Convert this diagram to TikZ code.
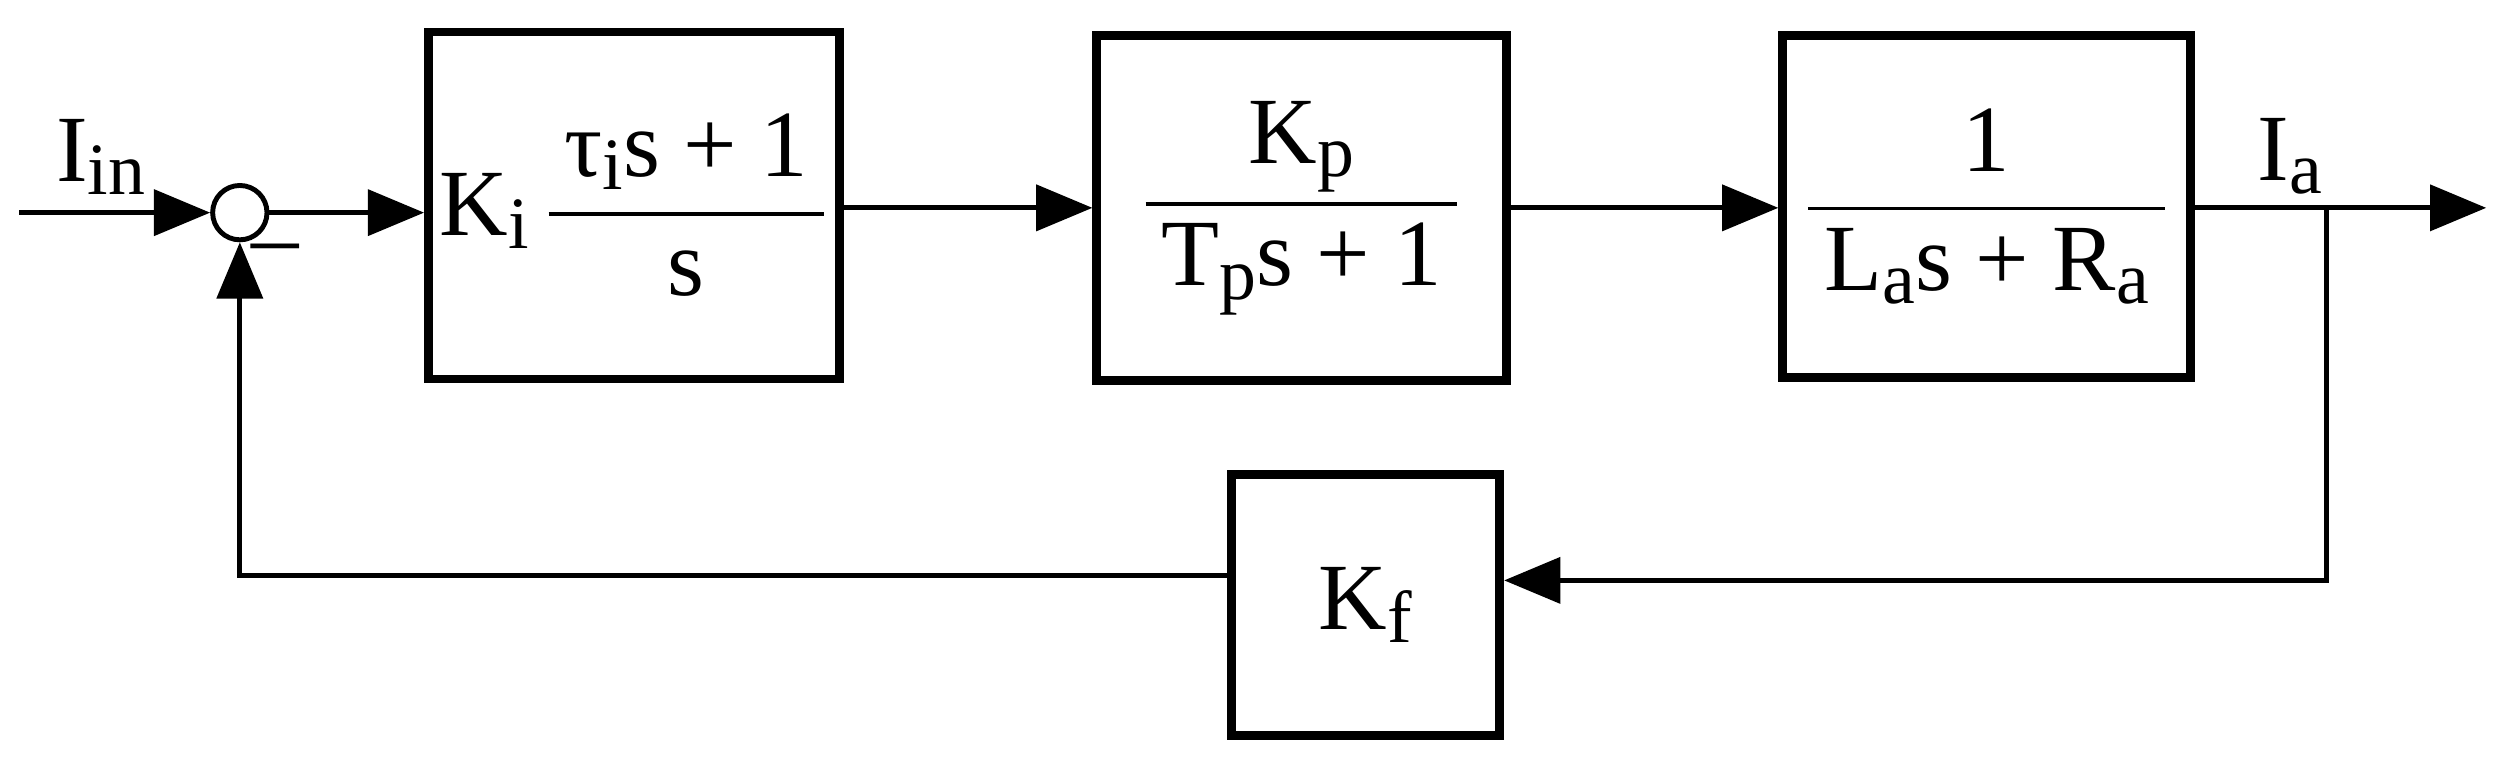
\documentclass[tikz,border=0pt]{standalone}
\usepackage{fontspec}
\setmainfont{Liberation Serif}
\usepackage{amsmath}
\usetikzlibrary{arrows.meta}
\newcommand{\sbx}[1]{\raisebox{-0.3ex}{\fontsize{21}{22}\selectfont #1}}
\begin{document}
\begin{tikzpicture}[x=0.01599cm,y=-0.01599cm,
  blk/.style={draw,line width=2.5pt,inner sep=0},
  ln/.style={line width=1.4pt},
  arr/.style={ln,-{Triangle[length=16pt,width=13pt]}},
  every node/.style={font=\fontsize{27}{32}\selectfont}]
\useasboundingbox (0,0) rectangle (1568,478);
\node[draw,ln,circle,minimum size=34*0.455pt,inner sep=0] (sum) at (150,133) {};
\node[blk,minimum width=257*0.455pt,minimum height=217*0.455pt] (b1) at (396.5,128.5) {};
\node at (b1) {K\sbx{i}\,$\dfrac{\text{\,τ\sbx{i}s + 1\,}}{\text{s}}$};
\node[blk,minimum width=256*0.455pt,minimum height=216*0.455pt] (b2) at (814,130) {};
\node at (b2) {$\dfrac{\text{K\sbx{p}}}{\text{\,T\sbx{p}s + 1\,}}$};
\node[blk,minimum width=255*0.455pt,minimum height=214*0.455pt] (b3) at (1242.5,129) {};
\node at (b3) {$\dfrac{\text{1}}{\text{\,L\sbx{a}s + R\sbx{a}\,}}$};
\node[blk,minimum width=168*0.455pt,minimum height=163*0.455pt] (bf) at (854,378.5) {K\sbx{f}};
\coordinate (in) at (12,133);
\coordinate (out) at (1555,130);
\coordinate (br) at (1455,130);
\coordinate (brd) at (1455,363);
\coordinate (fbl) at (150,360);
\draw[arr] (in) -- (sum);
\draw[arr] (sum) -- (sum -| b1.west);
\draw[arr] (b1.east |- 0,130) -- (b2.west |- 0,130);
\draw[arr] (b2.east |- 0,130) -- (b3.west |- 0,130);
\draw[arr] (b3.east |- 0,130) -- (out);
\draw[arr] (br) -- (brd) -- (bf.east |- brd);
\draw[arr] (bf.west |- fbl) -- (fbl) -- (sum.south);
\node at (63,98) {I\sbx{in}};
\node at (1432,98) {I\sbx{a}};
\node at (172,160) {–};
\end{tikzpicture}
\end{document}
